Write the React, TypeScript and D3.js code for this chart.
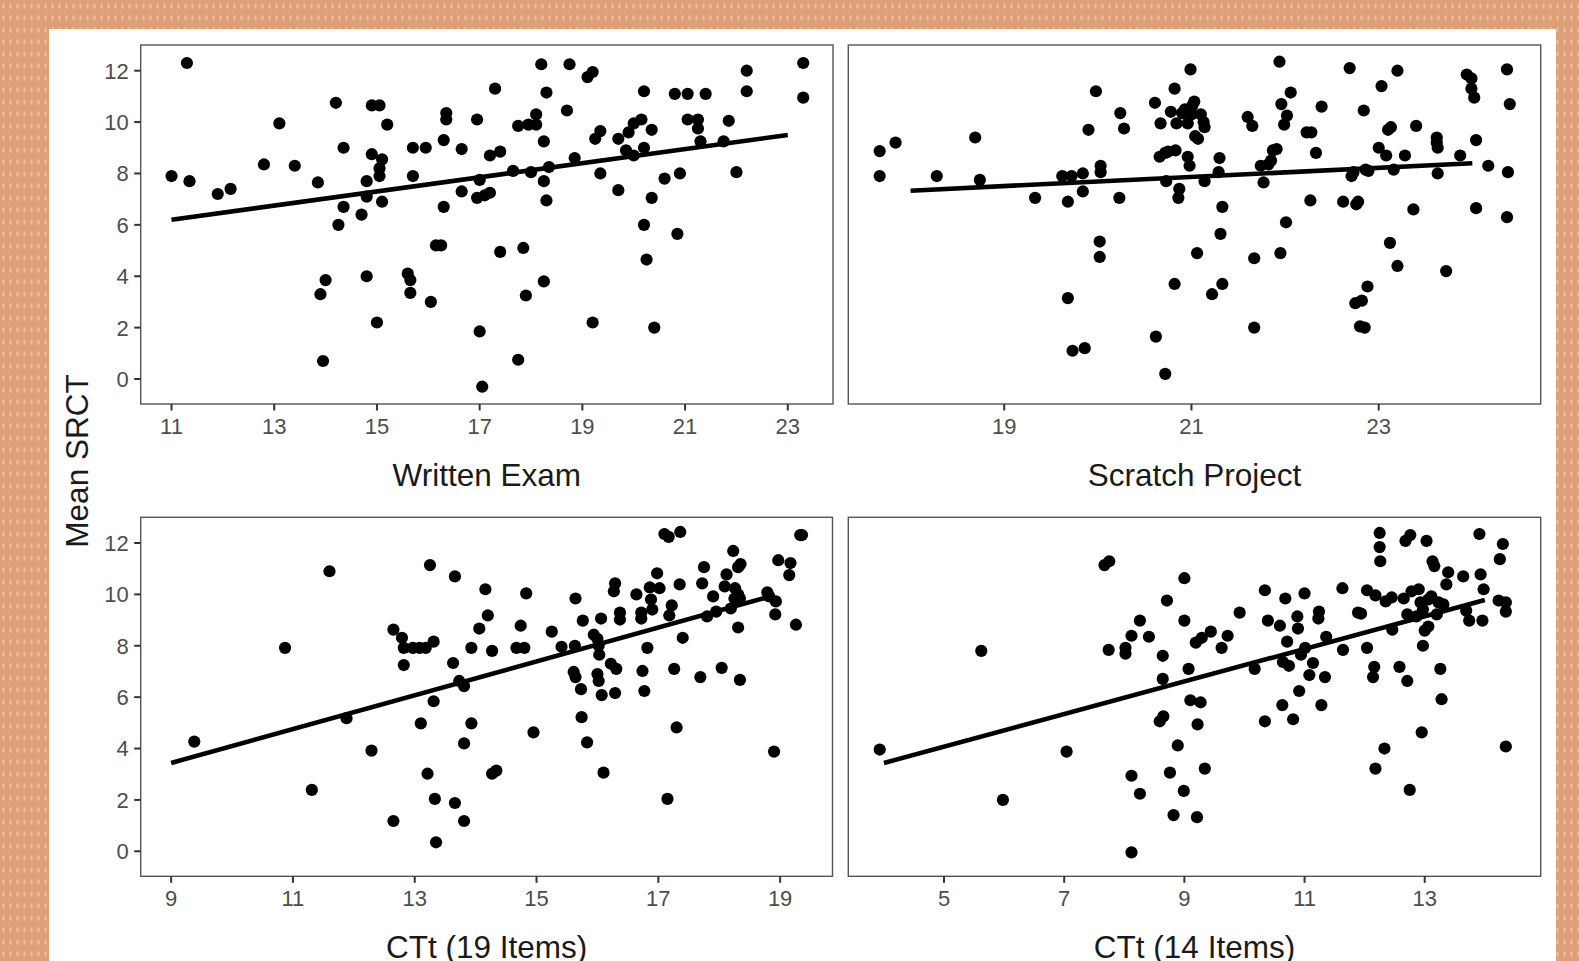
import React from 'react';
import * as d3 from 'd3';

// ---------- DATA ----------
const writtenExam: [number, number][] = [
  [11.0,7.9],[11.3,12.3],[11.35,7.7],[11.9,7.2],[12.15,7.4],[12.8,8.35],[13.1,9.95],[13.4,8.3],[13.85,7.65],[13.9,3.3],
  [14.0,3.85],[13.95,0.7],[14.2,10.75],[14.35,9.0],[14.25,6.0],[14.35,6.7],[14.7,6.4],[14.8,7.1],[14.8,7.7],[14.8,4.0],
  [14.9,8.75],[14.9,10.65],[15.05,10.65],[15.05,8.2],[15.05,7.9],[15.1,6.9],[15.1,8.55],[15.2,9.9],[15.0,2.2],[15.6,4.1],
  [15.65,3.85],[15.65,3.35],[15.7,9.0],[15.7,7.9],[15.95,9.0],[16.05,3.0],[16.15,5.2],[16.25,5.2],[16.3,9.3],[16.35,10.35],
  [16.35,10.1],[16.3,6.7],[16.65,8.95],[16.65,7.3],[16.95,10.1],[16.95,7.05],[17.0,7.75],[17.1,7.15],[17.2,7.25],[17.0,1.85],
  [17.05,-0.3],[17.3,11.3],[17.2,8.7],[17.4,8.85],[17.4,4.95],[17.65,8.1],[17.75,9.85],[17.75,0.75],[17.85,5.1],[17.9,3.25],
  [17.95,9.9],[18.0,8.05],[18.1,10.3],[18.1,9.9],[18.2,12.25],[18.25,9.25],[18.25,7.7],[18.3,11.15],[18.3,6.95],[18.35,8.25],
  [18.25,3.8],[18.7,10.45],[18.75,12.25],[18.85,8.6],[19.1,11.75],[19.2,11.95],[19.2,2.2],[19.25,9.35],[19.35,9.65],[19.35,8.0],
  [19.7,7.35],[19.7,9.35],[19.9,9.6],[19.85,8.9],[20.0,8.7],[20.0,9.95],[20.15,10.1],[20.2,9.0],[20.2,11.2],[20.2,6.0],
  [20.25,4.65],[20.35,9.7],[20.35,7.05],[20.4,2.0],[20.6,7.8],[20.8,11.1],[20.85,5.65],[20.9,8.0],[21.05,11.1],[21.05,10.1],
  [21.25,9.75],[21.25,10.1],[21.3,9.25],[21.4,11.1],[21.75,9.25],[21.85,10.05],[22.0,8.05],[22.2,11.2],[22.2,12.0],[23.3,12.3],
  [23.3,10.95]
];

const scratchProject: [number, number][] = [
  [17.67,8.87],[17.67,7.9],[17.84,9.2],[18.28,7.9],[18.69,9.4],[18.74,7.75],[19.33,7.05],[19.62,7.9],[19.68,6.9],[19.68,3.15],
  [19.72,7.9],[19.73,1.1],[19.84,8.0],[19.86,1.2],[19.84,7.3],[19.9,9.7],[19.98,11.2],[20.03,8.3],[20.03,8.05],[20.02,5.35],
  [20.02,4.75],[20.23,7.05],[20.24,10.35],[20.28,9.75],[20.61,10.75],[20.62,1.65],[20.66,8.65],[20.67,9.95],[20.72,0.2],[20.72,8.8],
  [20.73,7.7],[20.75,8.85],[20.78,10.4],[20.82,11.3],[20.82,3.7],[20.83,8.9],[20.84,9.95],[20.86,7.05],[20.87,7.4],[20.9,10.35],
  [20.93,10.5],[20.96,9.95],[20.96,8.65],[20.99,12.05],[20.98,8.3],[21.0,10.3],[21.01,10.65],[21.03,10.8],[21.04,9.45],[21.06,4.9],
  [21.07,9.35],[21.1,10.3],[21.13,10.0],[21.14,9.8],[21.14,7.7],[21.22,3.3],[21.29,8.05],[21.3,8.6],[21.33,6.7],[21.31,5.65],
  [21.33,3.7],[21.6,10.2],[21.65,9.85],[21.67,4.7],[21.67,2.0],[21.74,8.3],[21.77,7.65],[21.82,8.35],[21.85,8.5],[21.87,8.9],
  [21.91,8.95],[21.94,12.35],[21.95,4.9],[21.96,10.7],[21.99,9.9],[22.02,10.25],[22.01,6.1],[22.06,11.15],[22.23,9.6],[22.27,6.95],
  [22.28,9.6],[22.33,8.8],[22.39,10.6],[22.62,6.9],[22.69,12.1],[22.71,7.9],[22.73,8.05],[22.75,2.95],[22.76,6.8],[22.78,6.9],
  [22.8,2.05],[22.82,3.05],[22.85,2.0],[22.84,10.45],[22.86,8.15],[22.89,8.1],[22.88,3.6],[23.0,9.0],[23.03,11.4],[23.08,8.7],
  [23.1,9.7],[23.13,9.8],[23.16,8.15],[23.2,12.0],[23.12,5.3],[23.2,4.4],[23.28,8.7],[23.37,6.6],[23.4,9.85],[23.62,9.4],
  [23.62,9.2],[23.63,9.0],[23.63,8.0],[23.72,4.2],[23.87,8.7],[23.94,11.85],[23.99,11.7],[23.99,11.3],[24.02,10.95],[24.04,9.3],
  [24.04,6.65],[24.17,8.3],[24.37,12.05],[24.4,10.7],[24.38,8.05],[24.37,6.3]
];

const ctt19: [number, number][] = [
  [9.38,4.27],[10.87,7.92],[11.31,2.39],[11.6,10.9],[11.88,5.18],[12.29,3.92],[12.65,8.63],[12.65,1.18],[12.79,8.31],[12.82,7.92],
  [12.82,7.25],[12.97,7.92],[13.08,7.92],[13.18,7.92],[13.25,11.14],[13.1,4.98],[13.21,3.02],[13.31,8.16],[13.31,5.84],[13.33,2.04],
  [13.35,0.35],[13.63,7.33],[13.66,10.7],[13.73,6.63],[13.81,6.43],[13.81,4.2],[13.66,1.88],[13.81,1.18],[13.93,7.92],[13.93,4.98],
  [14.06,8.67],[14.16,10.2],[14.2,9.18],[14.27,7.8],[14.27,3.02],[14.34,3.14],[14.67,7.92],[14.74,8.78],[14.8,7.92],[14.95,4.63],
  [14.83,10.04],[15.25,8.55],[15.41,7.96],[15.63,8.0],[15.64,9.84],[15.61,6.98],[15.64,6.78],[15.73,6.31],[15.74,5.22],[15.83,4.24],
  [15.76,8.98],[15.94,8.43],[16.02,8.0],[16.0,8.27],[16.03,7.65],[16.0,6.9],[16.02,6.63],[16.07,6.08],[16.1,3.06],[16.06,9.06],
  [16.22,7.3],[16.27,10.12],[16.29,10.43],[16.31,7.1],[16.29,6.16],[16.37,9.29],[16.37,9.02],[16.64,10.0],[16.72,9.29],[16.74,7.02],
  [16.77,6.24],[16.82,7.92],[16.72,9.06],[16.86,10.27],[16.88,9.8],[16.9,9.41],[16.98,10.82],[17.02,10.24],[17.1,12.35],[17.17,12.24],
  [17.15,2.04],[17.18,9.18],[17.22,9.57],[17.26,7.1],[17.3,4.82],[17.36,12.43],[17.4,8.31],[17.35,10.39],[17.69,6.78],[17.72,10.43],
  [17.75,11.06],[17.8,9.14],[17.9,9.92],[17.95,9.33],[18.04,7.14],[18.09,10.31],[18.12,10.78],[18.19,9.45],[18.23,11.69],[18.25,9.84],
  [18.26,10.24],[18.31,11.06],[18.31,10.0],[18.31,8.71],[18.34,6.67],[18.35,11.18],[18.34,9.84],[18.79,10.08],[18.82,9.92],[18.92,9.22],
  [18.9,3.88],[18.93,9.73],[18.97,11.33],[19.15,10.75],[19.17,11.22],[19.26,8.82],[19.33,12.31],[19.36,12.31]
];

const ctt14: [number, number][] = [
  [3.93,3.96],[5.62,7.8],[5.98,2.0],[7.04,3.88],[7.67,11.14],[7.75,11.29],[7.74,7.84],[8.02,7.69],[8.02,7.92],[8.12,8.39],
  [8.12,2.94],[8.12,-0.04],[8.26,8.98],[8.26,2.24],[8.41,8.35],[8.59,5.06],[8.64,7.61],[8.64,6.71],[8.65,5.25],[8.71,9.76],
  [8.76,3.06],[8.82,1.41],[8.89,4.12],[9.0,10.63],[9.0,8.98],[8.99,2.35],[9.07,7.1],[9.1,5.88],[9.19,8.12],[9.21,1.33],
  [9.22,4.94],[9.27,5.8],[9.34,3.22],[9.29,8.31],[9.44,8.55],[9.62,7.92],[9.72,8.39],[9.92,9.29],[10.17,7.1],[10.34,10.16],
  [10.34,5.06],[10.39,8.98],[10.59,8.78],[10.63,5.69],[10.68,9.84],[10.64,7.37],[10.71,8.16],[10.74,7.22],[10.81,5.14],[10.88,9.14],
  [10.89,8.67],[10.91,6.24],[10.94,7.65],[11.0,10.04],[11.01,7.92],[11.08,6.86],[11.14,7.33],[11.23,9.06],[11.24,9.33],[11.28,5.69],
  [11.34,6.78],[11.36,8.35],[11.63,10.24],[11.64,7.84],[11.89,9.29],[11.94,9.25],[12.04,10.16],[12.04,7.92],[12.14,6.78],[12.16,7.18],
  [12.18,9.96],[12.18,3.22],[12.25,12.39],[12.25,11.84],[12.26,11.29],[12.33,4.0],[12.35,9.73],[12.45,9.88],[12.46,8.63],[12.58,7.18],
  [12.65,9.84],[12.68,12.08],[12.71,6.63],[12.71,9.22],[12.75,2.39],[12.76,12.31],[12.78,10.12],[12.86,9.14],[12.9,10.2],[12.93,9.69],
  [12.95,4.63],[12.97,9.41],[12.97,8.0],[13.0,8.59],[13.03,12.08],[13.06,8.75],[13.06,9.8],[13.11,9.92],[13.13,11.29],[13.16,11.1],
  [13.2,9.22],[13.23,9.69],[13.26,7.1],[13.28,5.92],[13.31,9.61],[13.36,10.39],[13.39,10.86],[13.64,10.7],[13.69,9.37],[13.74,8.98],
  [13.91,12.35],[13.93,10.78],[13.96,8.98],[13.98,10.2],[14.23,9.76],[14.25,11.37],[14.3,11.96],[14.35,9.69],[14.35,9.33],[14.35,4.08]
];

// fitted lm lines (data units): [xStart, xEnd], [yStart, yEnd]
const writtenFit = { x: [11, 23], y: [6.2, 9.5] };
const scratchFit = { x: [18, 24], y: [7.33, 8.4] };
const ctt19Fit = { x: [9, 18.75], y: [3.44, 9.86] };
const ctt14Fit = { x: [4, 14], y: [3.44, 9.78] };

const yTicks = [0, 2, 4, 6, 8, 10, 12];
const writtenTicks = [11, 13, 15, 17, 19, 21, 23];
const scratchTicks = [19, 21, 23];
const ctt19Ticks = [9, 11, 13, 15, 17, 19];
const ctt14Ticks = [5, 7, 9, 11, 13];

const titles = ['Written Exam', 'Scratch Project', 'CTt (19 Items)', 'CTt (14 Items)'];
const yTitle = 'Mean SRCT';

// ---------- LAYOUT ----------
const W = 1579, H = 961;
const FONT = '"Liberation Sans", Arial, Helvetica, sans-serif';
const yDomain: [number, number] = [-0.973, 13.0];

const panels = [
  { title: titles[0], data: writtenExam, fit: writtenFit, ticks: writtenTicks, xDomain: [10.40, 23.88], x0: 140.7, x1: 833, y0: 45, y1: 404, yAxis: true },
  { title: titles[1], data: scratchProject, fit: scratchFit, ticks: scratchTicks, xDomain: [17.335, 24.73], x0: 848.3, x1: 1540.7, y0: 45, y1: 404, yAxis: false },
  { title: titles[2], data: ctt19, fit: ctt19Fit, ticks: ctt19Ticks, xDomain: [8.50, 19.86], x0: 140.7, x1: 832.5, y0: 517.3, y1: 876.3, yAxis: true },
  { title: titles[3], data: ctt14, fit: ctt14Fit, ticks: ctt14Ticks, xDomain: [3.407, 14.93], x0: 848.3, x1: 1540.7, y0: 517.3, y1: 876.3, yAxis: false },
];

function Panel({ p }: { p: typeof panels[number] }) {
  const xs = d3.scaleLinear().domain(p.xDomain).range([p.x0, p.x1]);
  const ys = d3.scaleLinear().domain(yDomain).range([p.y1, p.y0]);
  const line = d3.line<[number, number]>().x(d => xs(d[0])).y(d => ys(d[1]));
  const fitPts: [number, number][] = [[p.fit.x[0], p.fit.y[0]], [p.fit.x[1], p.fit.y[1]]];
  const cx = (p.x0 + p.x1) / 2;
  return (
    <g>
      <rect x={p.x0} y={p.y0} width={p.x1 - p.x0} height={p.y1 - p.y0} fill="white" />
      {p.data.map((d, i) => (
        <circle key={i} cx={xs(d[0])} cy={ys(d[1])} r={6.1} fill="black" />
      ))}
      <path d={line(fitPts) || ''} stroke="black" strokeWidth={4.6} fill="none" />
      <rect x={p.x0} y={p.y0} width={p.x1 - p.x0} height={p.y1 - p.y0} fill="none" stroke="#555" strokeWidth={1.4} />
      {p.ticks.map(t => (
        <g key={t}>
          <line x1={xs(t)} x2={xs(t)} y1={p.y1} y2={p.y1 + 6.5} stroke="#333" strokeWidth={2} />
          <text x={xs(t)} y={p.y1 + 29.5} textAnchor="middle" fontSize={22} fill="#4d4d4d" fontFamily={FONT}>{t}</text>
        </g>
      ))}
      {p.yAxis && yTicks.map(t => (
        <g key={'y' + t}>
          <line x1={p.x0 - 6.5} x2={p.x0} y1={ys(t)} y2={ys(t)} stroke="#333" strokeWidth={2} />
          <text x={p.x0 - 12} y={ys(t)} dy="0.36em" textAnchor="end" fontSize={22} fill="#4d4d4d" fontFamily={FONT}>{t}</text>
        </g>
      ))}
      <text x={cx} y={p.y1 + 81.5} textAnchor="middle" fontSize={31.5} fill="#1a1a1a" fontFamily={FONT}>{p.title}</text>
    </g>
  );
}

export default function App() {
  return (
    <svg width={W} height={H} style={{ position: 'absolute', left: 0, top: 0, display: 'block' }}>
      <defs>
        <pattern id="bgdots" width={7} height={12} patternUnits="userSpaceOnUse">
          <rect width={7} height={12} fill="#DE9E77" />
          <rect x={2.5} y={3.5} width={2} height={5} fill="#EDBF9F" />
        </pattern>
      </defs>
      <rect x={0} y={0} width={W} height={H} fill="url(#bgdots)" />
      <rect x={49} y={29} width={1507} height={H - 29} fill="white" />
      {panels.map((p, i) => <Panel key={i} p={p} />)}
      <text transform={`translate(87.5,461) rotate(-90)`} textAnchor="middle" fontSize={31.5} fill="#1a1a1a" fontFamily={FONT}>{yTitle}</text>
    </svg>
  );
}
